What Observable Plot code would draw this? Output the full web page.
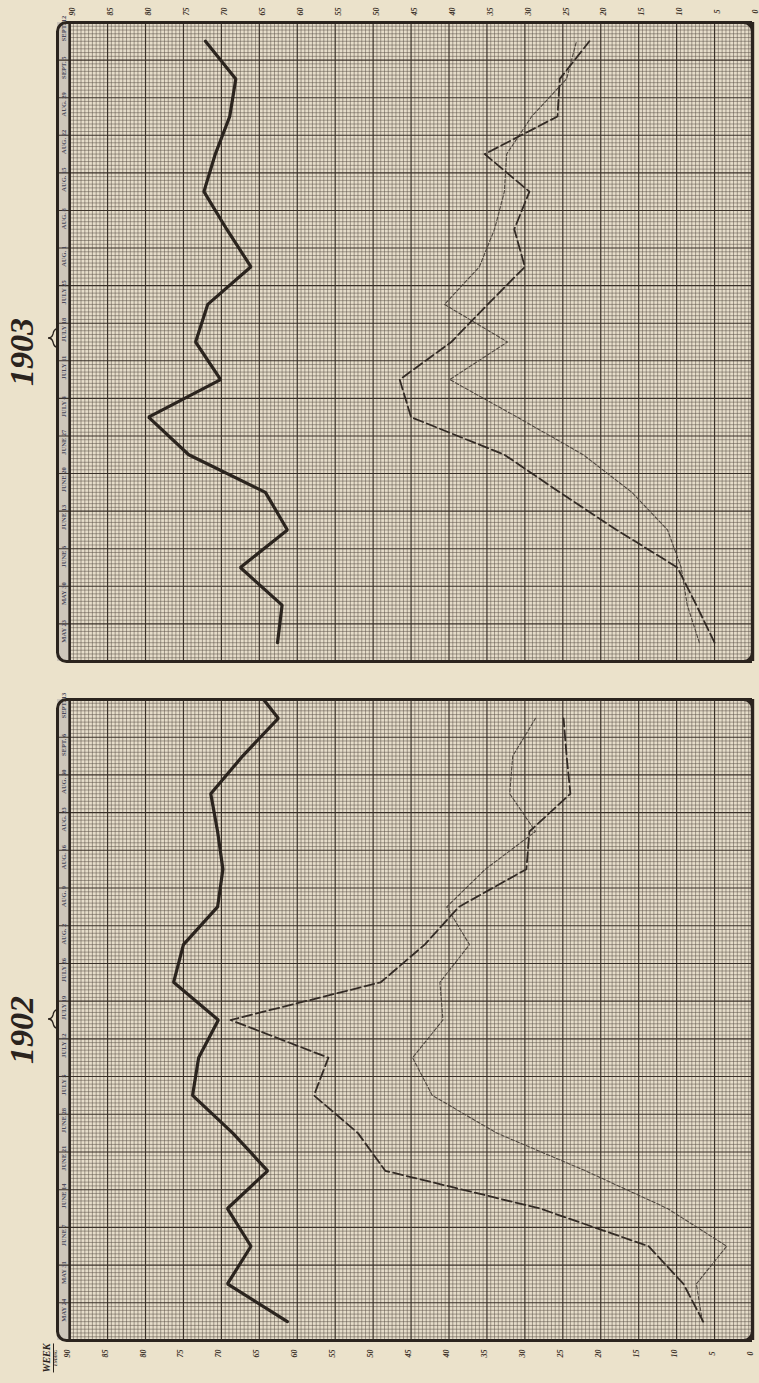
<!DOCTYPE html>
<html><head><meta charset="utf-8">
<script src="https://cdn.jsdelivr.net/npm/d3@7"></script>
<script src="https://cdn.jsdelivr.net/npm/@observablehq/plot@0.6"></script>
<style>
html,body{margin:0;padding:0;background:#ebe2cb;}
#wrap{position:relative;width:759px;height:1383px;overflow:hidden;background:#ebe2cb;}
#wrap svg{display:block;}
.title{position:absolute;font-family:"Liberation Serif","DejaVu Serif",serif;font-weight:bold;font-style:italic;font-size:34px;color:#2a231d;transform:translate(-50%,-50%) rotate(-90deg);white-space:nowrap;line-height:1;}
.wk{position:absolute;font-family:"Liberation Serif",serif;font-style:italic;font-weight:bold;color:#2a231d;transform:translate(-50%,-50%) rotate(-90deg);white-space:nowrap;line-height:1;text-align:center;}
.brace{position:absolute;}
</style></head><body><div id="wrap"></div>
<script>
// value axis ticks (per cent)
const valueTicks = d3.range(0, 91, 5);

// weeks listed from the bottom of each panel (first week) to the top (last week)
const weeks1903 = ["MAY 23","MAY 30","JUNE 6","JUNE 13","JUNE 20","JUNE 27","JULY 4","JULY 11","JULY 18","JULY 25","AUG. 1","AUG. 8","AUG. 15","AUG. 22","AUG. 29","SEPT. 5","SEPT. 12"];
const weeks1902 = ["MAY 24","MAY 31","JUNE 7","JUNE 14","JUNE 21","JUNE 28","JULY 5","JULY 12","JULY 19","JULY 26","AUG. 2","AUG. 9","AUG. 16","AUG. 23","AUG. 30","SEPT. 6","SEPT. 13"];

// 1903 series
const thick1903  = [62.6, 62.0, 67.5, 61.3, 64.2, 74.3, 79.6, 70.1, 73.4, 71.8, 66.1, 69.3, 72.3, 70.8, 68.9, 68.1, 72.1];
const dashed1903 = [5.0, 7.4, 9.9, 17.9, 25.4, 32.7, 45.0, 46.5, 39.7, 34.9, 30.0, 31.4, 29.4, 35.3, 25.7, 25.4, 21.5];
const dotted1903 = [7.0, 8.6, 9.4, 11.2, 15.9, 22.3, 31.0, 39.9, 32.3, 40.6, 36.0, 34.0, 32.7, 32.4, 29.1, 24.5, 23.2];

// 1902 series (the heavy line runs on past the last labelled week, off the top edge)
const thick1902  = [61.3, 69.2, 66.1, 69.2, 63.9, 68.5, 73.8, 73.0, 70.4, 76.3, 75.0, 70.5, 69.8, 70.5, 71.4, 67.2, 62.5, 66.4];
const dashed1902 = [6.5, 9.1, 13.7, 28.0, 48.4, 52.0, 57.8, 55.9, 68.8, 49.0, 43.2, 38.7, 29.8, 29.4, 24.0, 24.5, 24.9];
const dotted1902 = [6.6, 7.4, 3.4, 11.2, 22.0, 33.7, 42.2, 44.8, 40.8, 41.2, 37.3, 40.3, 35.2, 28.6, 32.0, 31.6, 28.6];

const INK = "#2b241e";
const STRIP = 91.6; // value position of outer edge of the week strip

function rows(arr) { return arr.map((v, i) => ({week: i, value: v})); }

function panel({thick, dashed, dotted, weeks, axis, height, marginTop, marginBottom}) {
  const n = weeks.length;
  const y0 = -0.5, y1 = n - 0.5;
  const minorX = d3.range(0, 90.001, 0.5).filter(v => v % 5 !== 0);
  const majorX = d3.range(5, 90, 5);
  const minorY = d3.range(0, n * 10 + 1).map(i => y0 + i / 10).filter((v, i) => i % 10 !== 0);
  const majorY = d3.range(1, n).map(i => y0 + i);
  return Plot.plot({
    width: 759, height,
    marginLeft: 57, marginRight: 7, marginTop, marginBottom,
    style: {background: "transparent", overflow: "visible", fontFamily: "Liberation Serif, serif"},
    x: {domain: [STRIP, 0], axis: null},
    y: {domain: [y0, y1], axis: null},
    marks: [
      Plot.rect([0], {x1: STRIP, x2: 90, y1: y0, y2: y1, fill: "#cdc6ba"}),
      Plot.rect([0], {x1: 90, x2: 0, y1: y0, y2: y1, fill: "#e6ddca"}),
      Plot.ruleX(minorX, {y1: y0, y2: y1, stroke: "#5b5046", strokeWidth: 0.7, strokeOpacity: 0.75}),
      Plot.ruleY(minorY, {x1: 90, x2: 0, stroke: "#5b5046", strokeWidth: 0.7, strokeOpacity: 0.75}),
      Plot.ruleX(majorX, {y1: y0, y2: y1, stroke: "#3a3129", strokeWidth: 1.2}),
      Plot.ruleY(majorY, {x1: STRIP, x2: 0, stroke: "#3a3129", strokeWidth: 1.1}),
      Plot.text(weeks, {frameAnchor: "left", dx: 6, y: (d, i) => i, text: d => d, rotate: -90, fontSize: 6.5, fill: "#4a4a5a", fontWeight: "bold"}),
      Plot.ruleX([90], {y1: y0, y2: y1, stroke: INK, strokeWidth: 2.6}),
      Plot.line(rows(dotted), {x: "value", y: "week", stroke: "#4f473f", strokeWidth: 1.1, strokeDasharray: "3.5,2", clip: true}),
      Plot.line(rows(dashed), {x: "value", y: "week", stroke: "#332b25", strokeWidth: 1.8, strokeDasharray: "10,4", clip: true}),
      Plot.line(rows(thick), {x: "value", y: "week", stroke: INK, strokeWidth: 3.2, strokeLinejoin: "miter", clip: true}),
      // border: rounded on the strip side, square on the right
      Plot.frame({stroke: INK, strokeWidth: 3, rx: 9}),
      Plot.ruleY([y0, y1], {x1: 60, x2: 0, stroke: INK, strokeWidth: 3}),
      Plot.ruleX([0], {y1: y0, y2: y1, stroke: INK, strokeWidth: 3.4}),
      Plot.text(valueTicks, {x: d => d, text: d => String(d), frameAnchor: axis, dy: axis === "top" ? -11 : 13, rotate: -90, fontSize: 8, fontStyle: "italic", fontWeight: "bold", fill: "#3a3028"})
    ]
  });
}

const wrap = document.getElementById("wrap");
wrap.appendChild(panel({thick: thick1903, dashed: dashed1903, dotted: dotted1903, weeks: weeks1903, axis: "top", height: 680, marginTop: 22, marginBottom: 19}));
wrap.appendChild(panel({thick: thick1902, dashed: dashed1902, dotted: dotted1902, weeks: weeks1902, axis: "bottom", height: 703, marginTop: 19, marginBottom: 43}));

// titles, braces and corner label
function addTitle(text, x, y) {
  const d = document.createElement("div");
  d.className = "title"; d.textContent = text;
  d.style.left = x + "px"; d.style.top = y + "px";
  wrap.appendChild(d);
}
function addBrace(y) {
  const ns = "http://www.w3.org/2000/svg";
  const s = document.createElementNS(ns, "svg");
  s.setAttribute("width", 14); s.setAttribute("height", 20);
  s.setAttribute("class", "brace");
  s.style.left = "44px"; s.style.top = (y - 10) + "px";
  const p = document.createElementNS(ns, "path");
  p.setAttribute("d", "M13,1 Q10,1 9,6 Q8,10 4,10 Q8,10 9,14 Q10,19 13,19");
  p.setAttribute("fill", "none"); p.setAttribute("stroke", INK); p.setAttribute("stroke-width", "1.3");
  s.appendChild(p); wrap.appendChild(s);
}
addTitle("1903", 22, 352);
addTitle("1902", 22, 1030);
addBrace(338);
addBrace(1019);

const wk = document.createElement("div");
wk.className = "wk";
wk.style.left = "50px"; wk.style.top = "1358px";
wk.innerHTML = '<div style="font-size:10px">WEEK</div><div style="font-size:4px;border-top:1px solid #2a231d;margin-top:1px">ENDING</div>';
wrap.appendChild(wk);
</script></body></html>
